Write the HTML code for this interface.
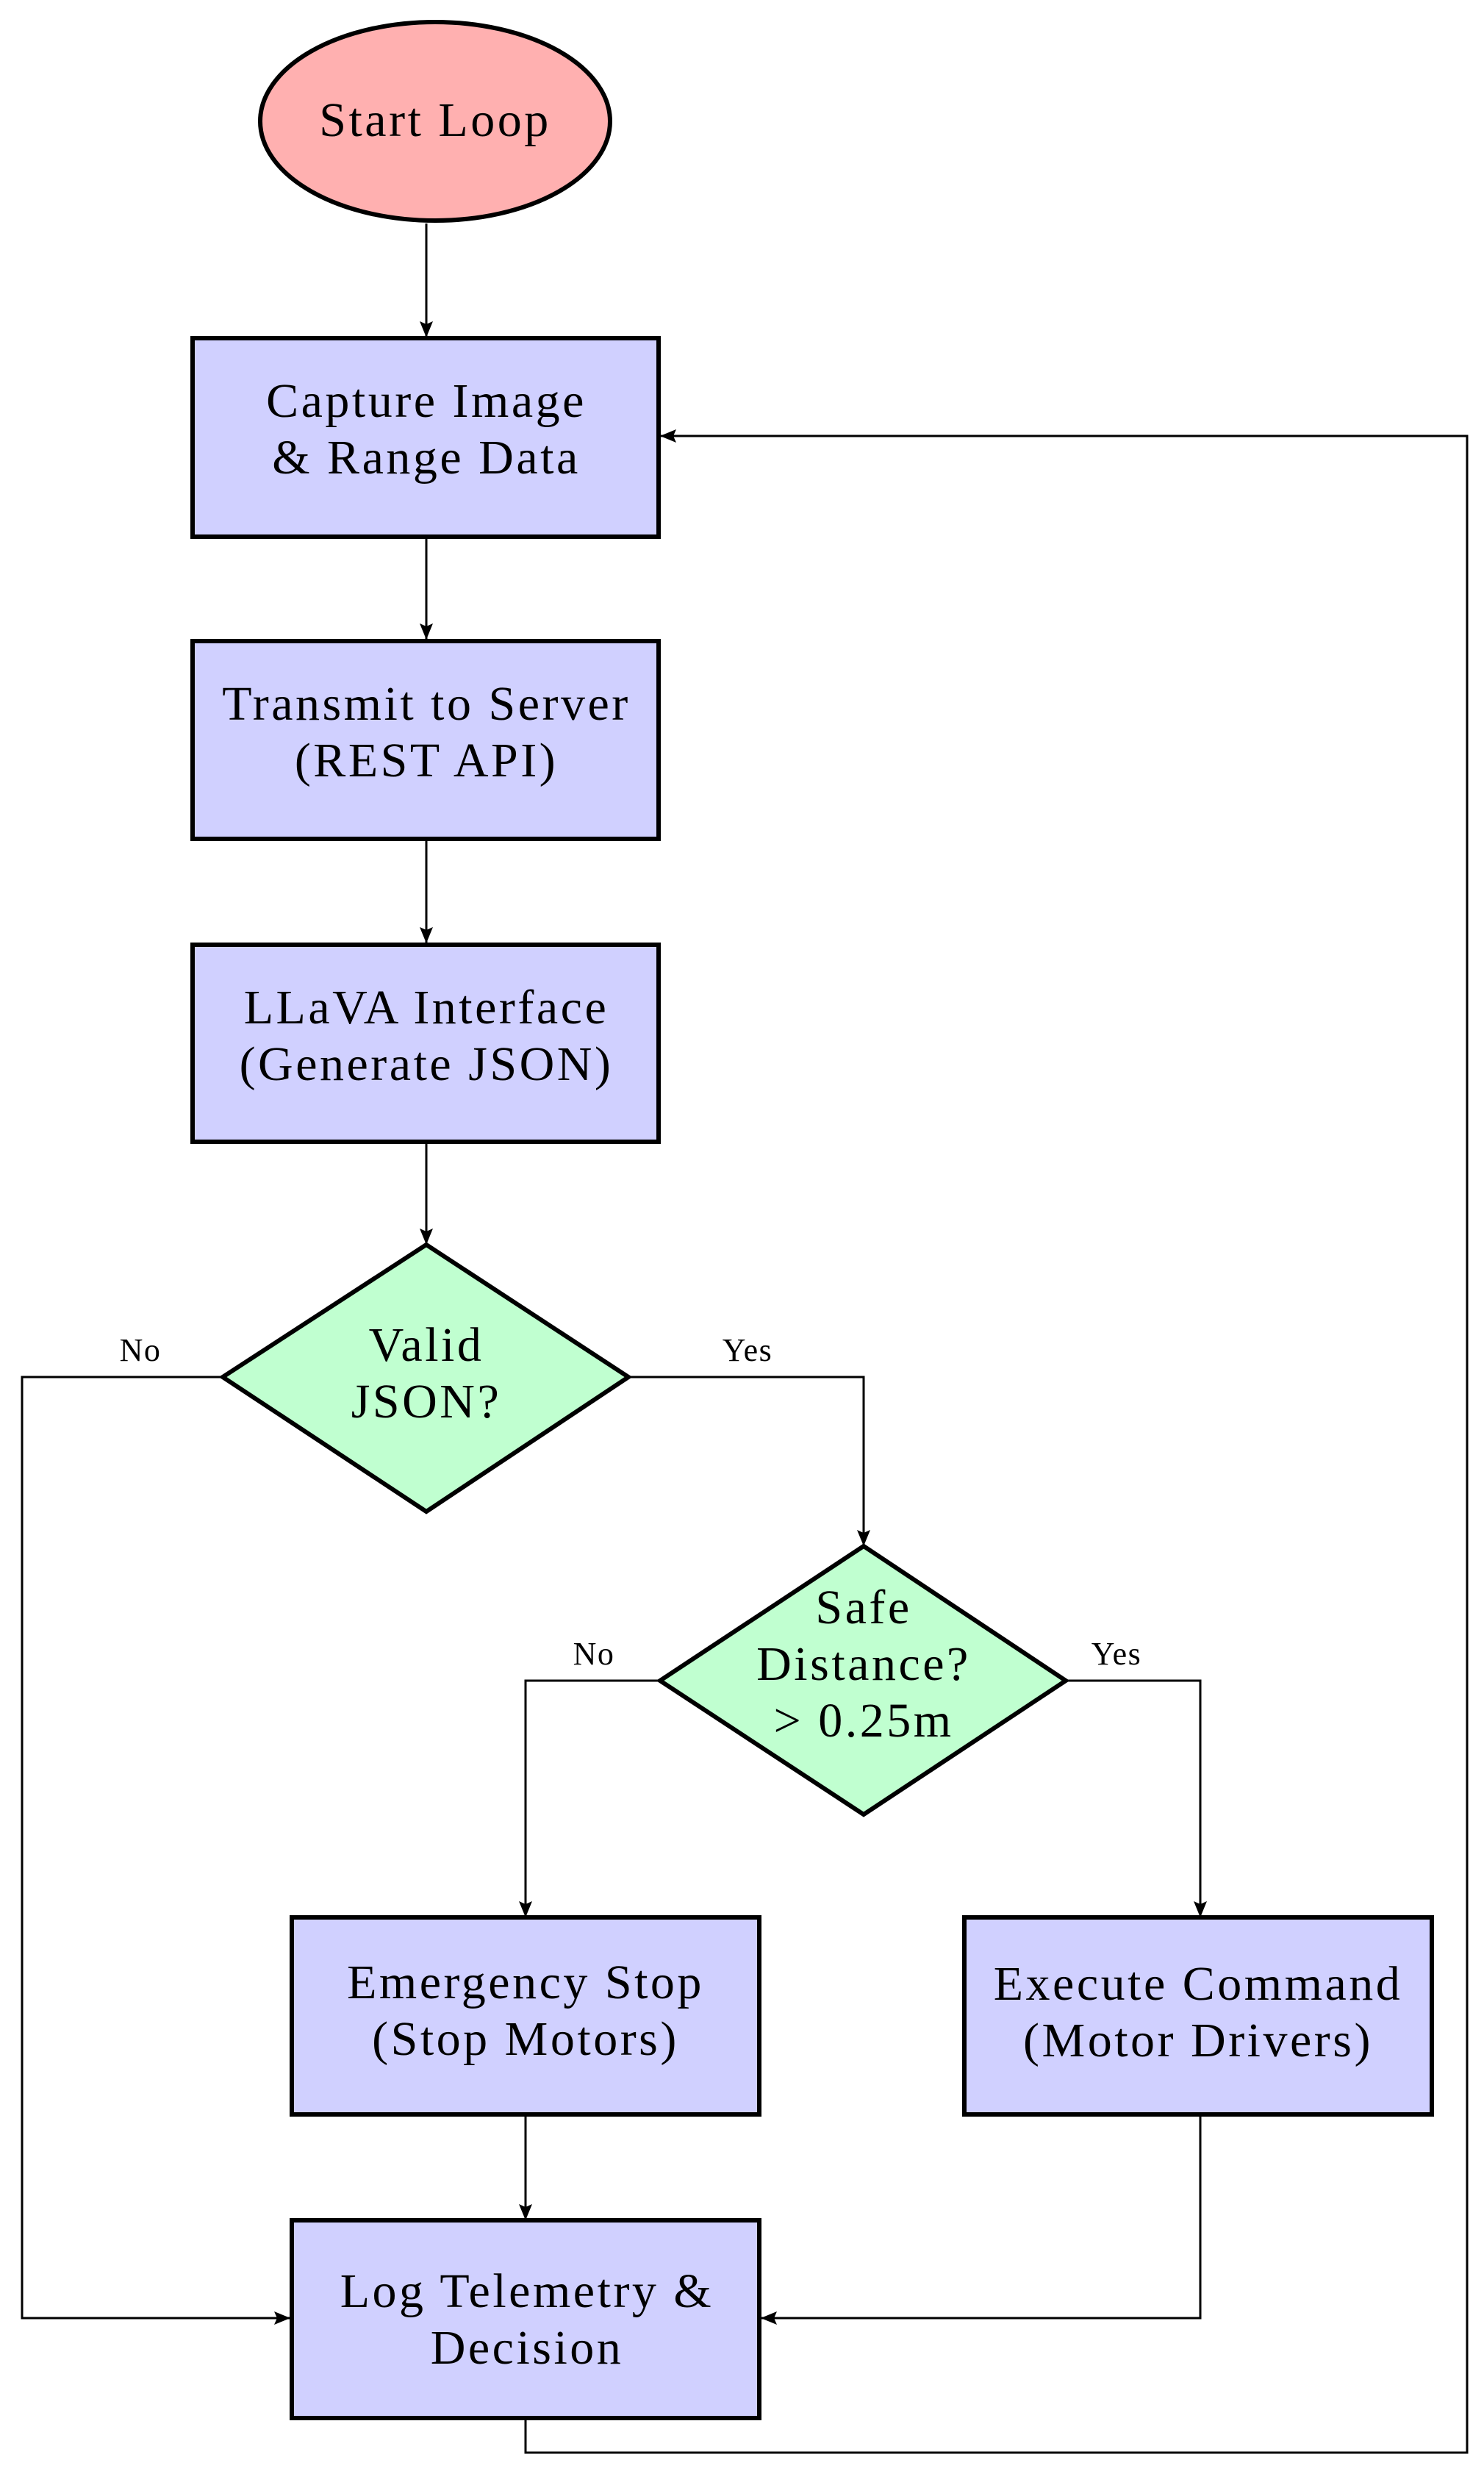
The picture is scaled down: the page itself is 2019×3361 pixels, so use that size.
<!DOCTYPE html>
<html><head><meta charset="utf-8"><style>html,body{margin:0;padding:0;background:#fff}svg{display:block}</style></head><body>
<svg width="2019" height="3361" viewBox="0 0 2019 3361" xmlns="http://www.w3.org/2000/svg" font-family="'Liberation Serif', serif">
<defs>
<marker id="b" markerWidth="22" markerHeight="18" refX="22" refY="9" orient="auto" markerUnits="userSpaceOnUse" viewBox="0 0 22 18"><path d="M0,0 L22,9 L0,18 L4,9 z" fill="#000"/></marker></defs>
<g stroke="#000" stroke-width="3" fill="none" marker-end="url(#b)">
<path d="M580 304 V459"/>
<path d="M580 730 V870"/>
<path d="M580 1141 V1283"/>
<path d="M580 1553 V1693"/>
<path d="M855 1873 H1175 V2103"/>
<path d="M303 1873 H30 V3153 H395"/>
<path d="M898 2286 H715 V2608"/>
<path d="M1450 2286 H1633 V2608"/>
<path d="M715 2878 V3020"/>
<path d="M1633 2878 V3153 H1035"/>
<path d="M715 3291 V3336 H1996 V593 H898"/>
</g>
<g stroke="#000" stroke-width="6">
<ellipse cx="592" cy="165" rx="238" ry="135" fill="#FFB0B0"/>
<rect x="262" y="460" width="634" height="270" fill="#D0D0FF"/>
<rect x="262" y="872" width="634" height="269" fill="#D0D0FF"/>
<rect x="262" y="1285" width="634" height="268" fill="#D0D0FF"/>
<polygon points="580,1693 855,1873 580,2056 303,1873" fill="#C0FFD0"/>
<polygon points="1175,2103 1450,2286 1175,2468 898,2286" fill="#C0FFD0"/>
<rect x="397" y="2608" width="636" height="268" fill="#D0D0FF"/>
<rect x="1312" y="2608" width="636" height="268" fill="#D0D0FF"/>
<rect x="397" y="3020" width="636" height="269" fill="#D0D0FF"/>
</g>
<g font-size="66" letter-spacing="3.5" text-anchor="middle" fill="#000">
<text x="592" y="185">Start Loop</text>
<text x="580" y="567">Capture Image</text>
<text x="580" y="644">&amp; Range Data</text>
<text x="580" y="979">Transmit to Server</text>
<text x="580" y="1056">(REST API)</text>
<text x="580" y="1392">LLaVA Interface</text>
<text x="580" y="1469">(Generate JSON)</text>
<text x="580" y="1851">Valid</text>
<text x="580" y="1928">JSON?</text>
<text x="1175" y="2208">Safe</text>
<text x="1175" y="2285">Distance?</text>
<text x="1175" y="2362">&gt; 0.25m</text>
<text x="715" y="2718">Emergency Stop</text>
<text x="715" y="2795">(Stop Motors)</text>
<text x="1630" y="2720">Execute Command</text>
<text x="1630" y="2797">(Motor Drivers)</text>
<text x="717" y="3138">Log Telemetry &amp;</text>
<text x="717" y="3215">Decision</text>
</g>
<g font-size="44" letter-spacing="1.5" text-anchor="middle" fill="#000">
<text x="191" y="1851">No</text>
<text x="1017" y="1851">Yes</text>
<text x="808" y="2264">No</text>
<text x="1519" y="2264">Yes</text>
</g>
</svg>
</body></html>
